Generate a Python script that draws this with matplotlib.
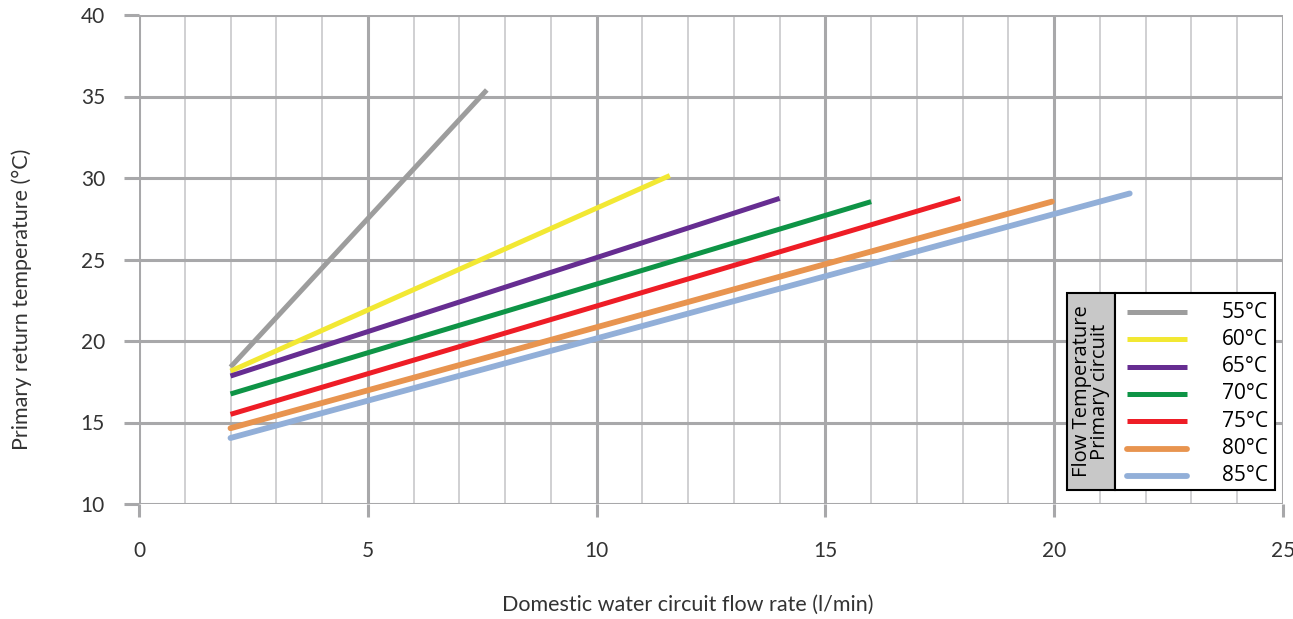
import matplotlib
matplotlib.use("Agg")
import matplotlib.pyplot as plt
import matplotlib.patches as patches
from matplotlib.lines import Line2D

# curves: one straight segment per primary flow temperature
labels = ["55°C", "60°C", "65°C", "70°C", "75°C", "80°C", "85°C"]
x_start = [2, 2, 2, 2, 2, 2, 2]
x_end = [7.6, 11.6, 14.0, 16.0, 17.95, 19.95, 21.65]
y_start = [18.4, 18.15, 17.85, 16.75, 15.5, 14.65, 14.05]
y_end = [35.4, 30.15, 28.75, 28.55, 28.75, 28.55, 29.05]
colors = ["#9d9d9d", "#f2e833", "#662d91", "#0e9446", "#ee1d26", "#e8944f", "#92afd8"]
caps = ["butt", "butt", "butt", "butt", "butt", "round", "round"]
widths = [3.6, 3.6, 3.6, 3.6, 3.6, 4.2, 4.2]

xticks = [0, 5, 10, 15, 20, 25]
yticks = [10, 15, 20, 25, 30, 35, 40]

plt.rcParams['font.family'] = ['Lato', 'DejaVu Sans']
txt = "#333333"

fig = plt.figure(figsize=(12.93, 6.19), dpi=100)
ax = fig.add_axes([139/1293, 1-504/619, (1283-139)/1293, (504-15)/619])
ax.set_xlim(0, 25)
ax.set_ylim(10, 40)

for s in ax.spines.values():
    s.set_visible(False)

ax.set_xticks(xticks)
ax.set_yticks(yticks)
ax.set_xticks(range(0, 26), minor=True)
ax.grid(which="major", axis="both", color="#a8a8aa", lw=2.2, zorder=0)
ax.grid(which="minor", axis="x", color="#c4c4c6", lw=1.1, zorder=0)
ax.tick_params(axis="x", which="major", length=9, width=2.2, color="#a8a8aa",
               pad=17.5, labelsize=15, labelcolor=txt)
ax.tick_params(axis="x", which="minor", length=0)
ax.tick_params(axis="y", which="major", length=11, width=2.2, color="#a8a8aa",
               pad=13.5, labelsize=15, labelcolor=txt)

for i in range(len(labels)):
    ax.plot([x_start[i], x_end[i]], [y_start[i], y_end[i]], color=colors[i],
            lw=widths[i], solid_capstyle=caps[i], zorder=3)

fig.text(22/1293, 1-299/619, "Primary return temperature (°C)", rotation=90,
         ha="center", va="center", fontsize=15.5, color=txt)
fig.text(688/1293, 1-605/619, "Domestic water circuit flow rate (l/min)",
         ha="center", va="center", fontsize=15.5, color=txt)

# legend: gray title cell + white box with entries
L, M, R, T, B = 1067, 1115, 1275, 293, 490
def fx(px): return px/1293
def fy(py): return 1-py/619
fig.patches.append(patches.Rectangle((fx(L), fy(B)), fx(M)-fx(L), fy(T)-fy(B),
                   transform=fig.transFigure, facecolor="#c8c8c8", edgecolor="black", lw=1.5, zorder=5))
fig.patches.append(patches.Rectangle((fx(M), fy(B)), fx(R)-fx(M), fy(T)-fy(B),
                   transform=fig.transFigure, facecolor="white", edgecolor="black", lw=1.5, zorder=5))
fig.text(fx((L+M)/2), fy((T+B)/2), "Flow Temperature\nPrimary circuit", rotation=90,
         ha="center", va="center", fontsize=14.5, linespacing=0.9, zorder=6,
         family=["Open Sans", "DejaVu Sans"])
row0, dy = 312, 27.3
for i in range(len(labels)):
    yy = fy(row0 + i*dy)
    fig.lines.append(Line2D([fx(1127), fx(1187)], [yy, yy], transform=fig.transFigure,
                            color=colors[i], lw=widths[i], solid_capstyle=caps[i], zorder=6))
    fig.text(fx(1268), yy, labels[i], ha="right", va="center", fontsize=15, zorder=6,
             family=["Open Sans", "DejaVu Sans"])

fig.savefig("out.png", dpi=100)
